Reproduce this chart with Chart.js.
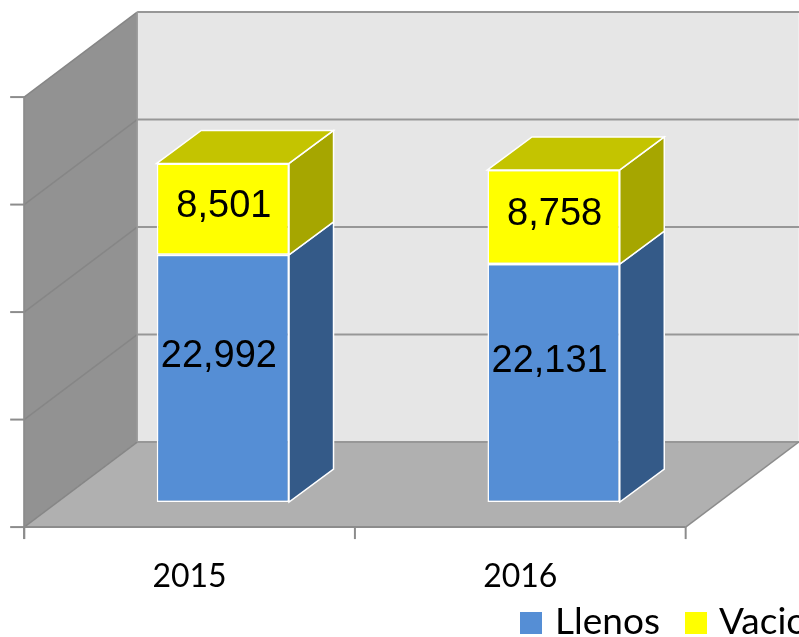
<!DOCTYPE html>
<html><head><meta charset="utf-8">
<script src="https://cdn.jsdelivr.net/npm/chart.js@4/dist/chart.umd.min.js"></script>
<style>
html,body{margin:0;padding:0;background:#fff;overflow:hidden;width:799px;height:637px;}
#wrap{position:relative;width:799px;height:637px;overflow:hidden;}
canvas{position:absolute;left:0;top:0;}
.lg-box{position:absolute;width:22px;height:22px;top:612px;}
.lg-txt{position:absolute;top:601px;font-family:Lato,sans-serif;font-size:37px;line-height:37px;white-space:nowrap;color:#000;}
</style></head><body>
<div id="wrap"><canvas id="c" width="799" height="637"></canvas></div>
<script>
// ---- data ----
const categories = ['2015', '2016'];
const llenos = [22992, 22131];
const vacios = [8501, 8758];
const seriesNames = ['Llenos', 'Vacios'];
const yTicks = [0, 10000, 20000, 30000, 40000];

// ---- styles ----
const frontColors = ['#558ed5', '#ffff00'];
const sideColors = ['#345a88', '#a6a600'];
const topColors = ['#3f6ea8', '#c4c400'];
const labelDy = [-22, -2.5];
const labelDx = [-4, 1];
const DEPTH = {x: 113, y: -85};
const FR = 0.295;
const F = {x: -FR * DEPTH.x, y: -FR * DEPTH.y};
const B = {x: (1 - FR) * DEPTH.x, y: (1 - FR) * DEPTH.y};
const BAR_D = {x: 44.5, y: -33};

function poly(ctx, pts, fill, stroke, lw) {
  ctx.beginPath();
  ctx.moveTo(pts[0][0], pts[0][1]);
  for (let i = 1; i < pts.length; i++) ctx.lineTo(pts[i][0], pts[i][1]);
  ctx.closePath();
  if (fill) { ctx.fillStyle = fill; ctx.fill(); }
  if (stroke) { ctx.strokeStyle = stroke; ctx.lineWidth = lw || 1; ctx.stroke(); }
}
function line(ctx, x1, y1, x2, y2, c, w) {
  ctx.beginPath(); ctx.moveTo(x1, y1); ctx.lineTo(x2, y2);
  ctx.strokeStyle = c; ctx.lineWidth = w; ctx.stroke();
}

const threeD = {
  id: 'threeD',
  beforeDatasetsDraw(chart) {
    const ctx = chart.ctx, ys = chart.scales.y, a = chart.chartArea;
    const X0 = a.left, X1 = a.right;
    const y0 = ys.getPixelForValue(yTicks[0]);
    const yT = ys.getPixelForValue(yTicks[yTicks.length - 1]);
    ctx.save();
    // back wall
    poly(ctx, [[X0 + B.x, yT + B.y], [X1 + B.x, yT + B.y], [X1 + B.x, y0 + B.y], [X0 + B.x, y0 + B.y]], '#e6e6e6');
    // left wall
    poly(ctx, [[X0 + F.x, y0 + F.y], [X0 + F.x, yT + F.y], [X0 + B.x, yT + B.y], [X0 + B.x, y0 + B.y]], '#929292');
    // floor
    poly(ctx, [[X0 + F.x, y0 + F.y], [X1 + F.x, y0 + F.y], [X1 + B.x, y0 + B.y], [X0 + B.x, y0 + B.y]], '#b0b0b0');
    // gridlines
    yTicks.forEach(v => {
      const py = ys.getPixelForValue(v);
      line(ctx, X0 + B.x, py + B.y, X1 + B.x + 5, py + B.y, '#979797', 2);
      line(ctx, X0 + F.x, py + F.y, X0 + B.x, py + B.y, '#868686', 1.5);
      line(ctx, X0 + F.x - 14, py + F.y, X0 + F.x, py + F.y, '#8c8c8c', 2);
    });
    // wall edges
    line(ctx, X0 + B.x, yT + B.y, X0 + B.x, y0 + B.y, '#9a9a9a', 1.5);
    line(ctx, X0 + F.x, yT + F.y, X0 + F.x, y0 + F.y + 12, '#8c8c8c', 2);
    line(ctx, X0 + F.x, y0 + F.y, X1 + F.x, y0 + F.y, '#8c8c8c', 2);
    line(ctx, X1 + F.x, y0 + F.y, X1 + B.x, y0 + B.y, '#8c8c8c', 1.5);
    // x ticks at category boundaries
    const cw = (X1 - X0) / categories.length;
    for (let i = 0; i <= categories.length; i++) {
      const px = X0 + i * cw + F.x;
      line(ctx, px, y0 + F.y, px, y0 + F.y + 12, '#8c8c8c', 2);
    }
    // bar sides and tops
    const n = chart.data.datasets.length;
    chart.data.datasets.forEach((ds, di) => {
      const meta = chart.getDatasetMeta(di);
      meta.data.forEach(el => {
        const p = el.getProps(['x', 'y', 'base', 'width'], true);
        const l = p.x - p.width / 2, r = p.x + p.width / 2, t = Math.min(p.y, p.base), b = Math.max(p.y, p.base);
        poly(ctx, [[r, t], [r + BAR_D.x, t + BAR_D.y], [r + BAR_D.x, b + BAR_D.y], [r, b]], sideColors[di], '#ffffff', 1.5);
        if (di === n - 1) {
          poly(ctx, [[l, t], [l + BAR_D.x, t + BAR_D.y], [r + BAR_D.x, t + BAR_D.y], [r, t]], topColors[di], '#ffffff', 1.5);
        }
      });
    });
    ctx.restore();
  },
  afterDatasetsDraw(chart) {
    const ctx = chart.ctx;
    ctx.save();
    ctx.font = '38px "Liberation Sans", Arial, sans-serif';
    ctx.fillStyle = '#000';
    ctx.textAlign = 'center';
    ctx.textBaseline = 'middle';
    chart.data.datasets.forEach((ds, di) => {
      const meta = chart.getDatasetMeta(di);
      meta.data.forEach((el, i) => {
        const p = el.getProps(['x', 'y', 'base'], true);
        ctx.fillText(ds.data[i].toLocaleString('en-US'), p.x + labelDx[di], (p.y + p.base) / 2 + labelDy[di]);
      });
    });
    ctx.restore();
  }
};

new Chart(document.getElementById('c'), {
  type: 'bar',
  data: {
    labels: categories,
    datasets: [
      {label: seriesNames[0], data: llenos, backgroundColor: frontColors[0]},
      {label: seriesNames[1], data: vacios, backgroundColor: frontColors[1]}
    ]
  },
  options: {
    responsive: false,
    animation: false,
    events: [],
    layout: {padding: {left: 57.5, right: 80, top: 72, bottom: 0}},
    datasets: {bar: {categoryPercentage: 1, barPercentage: 0.4, borderColor: '#ffffff', borderWidth: 1.5, borderSkipped: false}},
    plugins: {legend: {display: false}, tooltip: {enabled: false}},
    scales: {
      x: {
        stacked: true,
        grid: {display: false, drawTicks: false},
        border: {display: false},
        ticks: {font: {family: 'Lato', size: 32}, color: '#000', padding: 55, labelOffset: F.x},
        afterFit: s => { s.height = 135; }
      },
      y: {stacked: true, display: false, min: yTicks[0], max: yTicks[yTicks.length - 1]}
    }
  },
  plugins: [threeD]
});

// legend (HTML)
const wrap = document.getElementById('wrap');
const lgPos = [[520, 555], [685, 719]];
seriesNames.forEach((nm, i) => {
  const b = document.createElement('div');
  b.className = 'lg-box'; b.style.left = lgPos[i][0] + 'px'; b.style.background = frontColors[i];
  const t = document.createElement('div');
  t.className = 'lg-txt'; t.style.left = lgPos[i][1] + 'px'; t.textContent = nm;
  wrap.appendChild(b); wrap.appendChild(t);
});
</script>
</body></html>
